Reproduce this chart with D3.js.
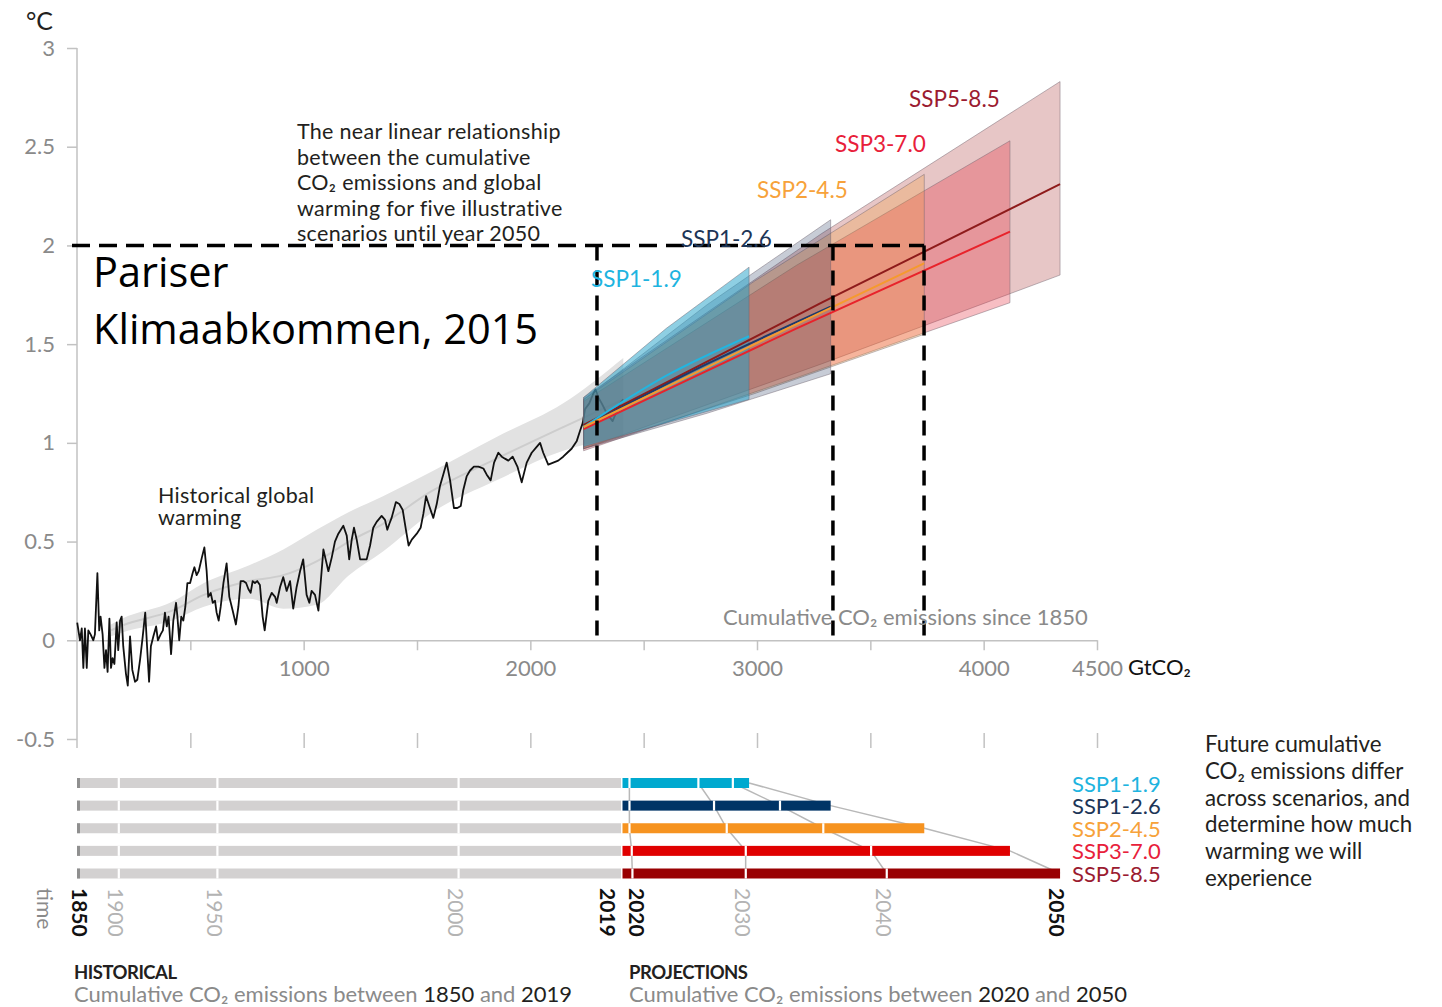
<!DOCTYPE html>
<html lang="en">
<head>
<meta charset="utf-8">
<script src="https://d3js.org/d3.v7.min.js"></script>
<style>
  body { margin: 0; background: #fff; }
</style>
</head>
<body>
<script>
// historical warming (°C) against cumulative CO2 since 1850 (GtCO2)
const histCum = [1,13,21,28,35,43,50,60,72,79,90,98,104,113,121,128,135,143,150,157,165,175,182,190,197,204,216,224,234,244,256,266,278,290,301,309,318,326,337,349,357,369,379,388,396,404,415,425,437,443,451,460,469,478,487,499,510,518,528,537,551,562,572,579,590,599,609,616,625,634,646,660,672,687,701,712,722,734,746,756,766,775,785,795,807,819,828,844,859,874,881,896,910,925,940,954,969,984,998,1013,1025,1035,1050,1065,1075,1087,1097,1109,1124,1138,1153,1175,1190,1201,1212,1222,1234,1249,1263,1278,1293,1307,1322,1344,1359,1369,1378,1388,1407,1422,1437,1451,1463,1477,1499,1516,1528,1540,1554,1572,1587,1601,1616,1631,1646,1663,1678,1693,1704,1719,1734,1751,1771,1793,1807,1825,1840,1859,1874,1888,1903,1922,1943,1962,1984,2006,2028,2043,2057,2079,2101,2123,2145,2163,2182,2205,2219,2231,2241,2260,2278,2288,2300,2315,2337,2363,2381,2396,2410];
const histTemp = [0.09,0.00,0.06,-0.14,0.06,-0.14,0.05,0.03,0.00,0.03,0.34,0.05,0.12,0.03,-0.14,-0.05,-0.16,0.11,-0.14,-0.09,-0.12,0.09,-0.05,0.10,0.12,-0.03,-0.17,-0.23,0.02,-0.15,-0.21,-0.20,-0.10,0.02,0.14,-0.03,-0.21,-0.03,0.02,0.07,0.00,0.03,0.05,0.14,0.07,0.12,-0.07,0.10,0.19,0.12,0.00,0.12,0.10,0.17,0.29,0.29,0.34,0.37,0.33,0.35,0.42,0.47,0.35,0.22,0.24,0.19,0.20,0.14,0.10,0.17,0.29,0.39,0.22,0.15,0.08,0.17,0.30,0.30,0.29,0.26,0.24,0.30,0.29,0.30,0.28,0.12,0.05,0.20,0.24,0.22,0.19,0.27,0.32,0.25,0.30,0.16,0.27,0.35,0.41,0.23,0.19,0.25,0.23,0.15,0.29,0.46,0.41,0.35,0.42,0.50,0.54,0.58,0.53,0.41,0.51,0.57,0.51,0.41,0.41,0.41,0.48,0.57,0.60,0.63,0.61,0.56,0.59,0.62,0.70,0.69,0.66,0.56,0.48,0.51,0.54,0.57,0.64,0.73,0.68,0.62,0.69,0.78,0.84,0.90,0.81,0.67,0.67,0.68,0.76,0.83,0.86,0.88,0.88,0.87,0.84,0.81,0.90,0.95,0.93,0.92,0.91,0.93,0.88,0.80,0.90,0.95,0.98,1.00,0.95,0.89,0.90,0.91,0.93,0.95,0.97,1.01,1.06,1.10,1.17,1.20,1.25,1.27,1.23,1.20,1.15,1.11,1.16,1.20,1.22];

// smoothed historical range
const bandCum = [150,200,420,560,760,910,1057,1200,1350,1557,1851,2145,2410];
const bandLo  = [0.02,0.04,0.10,0.17,0.21,0.16,0.18,0.33,0.45,0.64,0.81,0.96,1.03];
const bandMid = [0.05,0.075,0.15,0.23,0.30,0.33,0.40,0.50,0.59,0.75,0.92,1.08,1.22];
const bandHi  = [0.08,0.11,0.195,0.29,0.38,0.46,0.56,0.65,0.73,0.85,1.03,1.20,1.43];

// scenarios
const scenarios = ["SSP1-1.9","SSP1-2.6","SSP2-4.5","SSP3-7.0","SSP5-8.5"];
const projCum = [[2235,2600,2965],[2235,2780,3325],[2235,2990,3738],[2235,3175,4116],[2235,3285,4337]];
const projLo  = [[0.98,1.10,1.22],[0.97,1.15,1.35],[0.97,1.25,1.55],[0.96,1.33,1.71],[0.97,1.40,1.85]];
const projHi  = [[1.23,1.58,1.89],[1.22,1.70,2.13],[1.22,1.82,2.36],[1.21,1.90,2.53],[1.23,2.06,2.83]];
const projMid = [[1.08,1.34,1.54],[1.08,1.40,1.69],[1.08,1.50,1.91],[1.07,1.58,2.07],[1.09,1.71,2.31]];

// cumulative emissions at timeline years
const histYears = ["1850","1900","1950","2000","2019"];
const histYearCum = [0,184,619,1683,2400];
const projYears = ["2020","2030","2040","2050"];
const projYearCum = [[2437,2741,2893,2965],[2437,2810,3101,3325],[2437,2866,3292,3738],[2447,2950,3503,4116],[2450,2950,3572,4337]];

// Paris agreement annotation
const parisLevel = 2.0;
const parisCum = [2294,3335,3737];

const yTicks = [-0.5,0,0.5,1,1.5,2,2.5,3];
const xTicks = [500,1000,1500,2000,2500,3000,3500,4000,4500];
const xLabelled = [1000,2000,3000,4000,4500];

// styles
const bandFill = ["rgba(30,160,200,0.5)","rgba(30,50,90,0.25)","rgba(245,150,40,0.25)","rgba(230,40,55,0.3)","rgba(170,50,50,0.28)"];
const lineColor = ["#22b5e0","#1d3a6b","#f59a2e","#e8232b","#8e1b1b"];
const barColor = ["#00a9cf","#003466","#f69320","#e00000","#990002"];
const labelColor = ["#1eb4e0","#1d3557","#f7a23a","#e8203a","#9b1b30"];

const svg = d3.select("body").append("svg")
  .attr("width", 1442).attr("height", 1007)
  .attr("font-family", "Lato, 'Open Sans', sans-serif");

const x = d3.scaleLinear().domain([0, 4500]).range([77, 1097]);
const y = d3.scaleLinear().domain([-0.5, 3]).range([739, 48]);

function styleAxis(g) {
  g.attr("font-family", null).attr("font-size", null);
  g.selectAll("line,path").attr("stroke", "#c2c2c2").attr("stroke-width", 1.5);
  g.selectAll("text").attr("fill", "#8a8a8a").attr("font-size", 22);
}

// y axis
const gy = svg.append("g").attr("transform", "translate(77,0)")
  .call(d3.axisLeft(y).tickValues(yTicks).tickSize(10).tickSizeOuter(0).tickPadding(12).tickFormat(d => String(d)));
gy.select(".domain").remove();
gy.append("line").attr("x1", 0).attr("x2", 0).attr("y1", y(3)).attr("y2", y(-0.5) + 9);
styleAxis(gy);

// x axis at zero
const gx = svg.append("g").attr("transform", `translate(0,${y(0)})`)
  .call(d3.axisBottom(x).tickValues(xTicks).tickSize(10).tickSizeOuter(0).tickPadding(10)
    .tickFormat(d => xLabelled.includes(d) ? String(d) : ""));
styleAxis(gx);

// ticks at the bottom
const gb = svg.append("g").attr("transform", `translate(0,${y(-0.5) - 6})`)
  .call(d3.axisBottom(x).tickValues(xTicks).tickSize(15).tickFormat(""));
gb.select(".domain").remove();
styleAxis(gb);

svg.append("text").attr("x", x(4500) + 31).attr("y", y(0) + 35)
  .attr("font-size", 22).attr("fill", "#111").text("GtCO₂");
svg.append("text").attr("x", 26).attr("y", 30).attr("font-size", 25).attr("fill", "#231f20").text("°C");

// historical band
const band = d3.zip(bandCum, bandLo, bandMid, bandHi);
svg.append("path").datum(band)
  .attr("fill", "#e2e2e2")
  .attr("d", d3.area().curve(d3.curveMonotoneX).x(d => x(d[0])).y0(d => y(d[1])).y1(d => y(d[3])));
svg.append("path").datum(band)
  .attr("fill", "none").attr("stroke", "#cdcdcd").attr("stroke-width", 2)
  .attr("d", d3.line().curve(d3.curveMonotoneX).x(d => x(d[0])).y(d => y(d[2])));

// historical line
svg.append("path").datum(d3.zip(histCum, histTemp))
  .attr("fill", "none").attr("stroke", "#111").attr("stroke-width", 1.8).attr("stroke-linejoin", "round")
  .attr("d", d3.line().x(d => x(d[0])).y(d => y(d[1])));

// projection bands, widest first
[4, 3, 2, 1, 0].forEach(i => {
  const pts = d3.zip(projCum[i], projLo[i], projHi[i]);
  svg.append("path").datum(pts)
    .attr("fill", bandFill[i])
    .attr("stroke", "rgba(110,100,110,0.45)").attr("stroke-width", 1)
    .attr("d", d3.area().x(d => x(d[0])).y0(d => y(d[1])).y1(d => y(d[2])));
});
[4, 3, 1, 0, 2].forEach(i => {
  svg.append("path").datum(d3.zip(projCum[i], projMid[i]))
    .attr("fill", "none").attr("stroke", lineColor[i]).attr("stroke-width", 2)
    .attr("d", d3.line().curve(d3.curveMonotoneX).x(d => x(d[0])).y(d => y(d[1])));
});

// dashed Paris lines
svg.append("line")
  .attr("x1", x(0) - 5).attr("x2", x(d3.max(parisCum)))
  .attr("y1", y(parisLevel)).attr("y2", y(parisLevel))
  .attr("stroke", "#000").attr("stroke-width", 3.5).attr("stroke-dasharray", "18,9");
svg.selectAll("line.paris").data(parisCum).enter().append("line")
  .attr("class", "paris")
  .attr("x1", d => x(d)).attr("x2", d => x(d))
  .attr("y1", y(parisLevel)).attr("y2", y(0) + 2)
  .attr("stroke", "#000").attr("stroke-width", 3.5).attr("stroke-dasharray", "15,10");

// annotations
const note = ["The near linear relationship", "between the cumulative", "CO₂ emissions and global", "warming for five illustrative", "scenarios until year 2050"];
svg.append("text").attr("font-size", 21.5).attr("letter-spacing", 0.3).attr("fill", "#231f20")
  .selectAll("tspan").data(note).enter().append("tspan")
  .attr("x", 297).attr("y", (d, i) => 139 + i * 25.5).text(d => d);

svg.append("text").attr("font-size", 21.5).attr("letter-spacing", 0.3).attr("fill", "#231f20")
  .selectAll("tspan").data(["Historical global", "warming"]).enter().append("tspan")
  .attr("x", 158).attr("y", (d, i) => 503 + i * 22).text(d => d);

svg.append("text").attr("x", 723).attr("y", 625).attr("font-size", 22).attr("fill", "#8a8a8a")
  .text("Cumulative CO₂ emissions since 1850");

svg.append("text").attr("font-size", 41.5).attr("fill", "#000").attr("font-family", "'Open Sans', sans-serif")
  .selectAll("tspan").data(["Pariser", "Klimaabkommen, 2015"]).enter().append("tspan")
  .attr("x", 93).attr("y", (d, i) => 287 + i * 57).text(d => d);

// scenario labels in the chart
const topLabel = [[591, 278], [681, 238], [757, 189], [835, 143], [909, 98]];
scenarios.forEach((s, i) => {
  svg.append("text").attr("x", topLabel[i][0]).attr("y", topLabel[i][1])
    .attr("dominant-baseline", "central").attr("font-size", 22.5).attr("fill", labelColor[i]).text(s);
});

// timeline bars
const rowY = d3.scalePoint().domain(scenarios).range([783, 873.5]);
const barH = 10;

// connecting lines through the same year
projYears.forEach((yr, j) => {
  svg.append("path").datum(scenarios)
    .attr("fill", "none").attr("stroke", "#b8b8b8").attr("stroke-width", 1.5)
    .attr("d", d3.line().x((s, i) => x(projYearCum[i][j])).y(s => rowY(s)));
});

scenarios.forEach((s, i) => {
  const cy = rowY(s);
  const g = svg.append("g");
  g.append("rect").attr("x", x(0)).attr("y", cy - barH / 2)
    .attr("width", x(histYearCum[4]) - x(0)).attr("height", barH).attr("fill", "#d3d1d1");
  g.append("rect").attr("x", x(0)).attr("y", cy - barH / 2)
    .attr("width", 3).attr("height", barH).attr("fill", "#8f8f8f");
  g.append("rect").attr("x", x(histYearCum[4]) + 1.5).attr("y", cy - barH / 2)
    .attr("width", x(projYearCum[i][3]) - x(histYearCum[4]) - 1.5).attr("height", barH).attr("fill", barColor[i]);
  g.selectAll("rect.sep").data(histYearCum.slice(1, 4).concat(projYearCum[i].slice(0, 3))).enter()
    .append("rect").attr("class", "sep")
    .attr("x", d => x(d) - 1).attr("y", cy - barH / 2).attr("width", 2.2).attr("height", barH)
    .attr("fill", "#fff");
  svg.append("text").attr("x", 1072).attr("y", cy).attr("dominant-baseline", "central")
    .attr("font-size", 22).attr("fill", labelColor[i]).text(s);
});

// year labels, rotated
const yearLab = histYears.map((t, i) => ({ t: t, c: histYearCum[i] }))
  .concat(projYears.map((t, j) => ({ t: t, c: projYearCum[4][j] })));
const yearBold = ["1850", "2019", "2020", "2050"];
const yearShift = { "1850": 3, "2019": -13, "2020": 5, "2050": -3 };
yearLab.forEach(d => {
  const bold = yearBold.includes(d.t);
  const cx = x(d.c) + (yearShift[d.t] !== undefined ? yearShift[d.t] : -2);
  svg.append("text").attr("transform", `translate(${cx},888) rotate(90)`)
    .attr("dominant-baseline", "central").attr("font-size", 21)
    .attr("font-weight", bold ? "bold" : "normal")
    .attr("fill", bold ? "#111" : "#b3b3b3").text(d.t);
});
svg.append("text").attr("transform", "translate(45,888) rotate(90)")
  .attr("dominant-baseline", "central").attr("font-size", 21).attr("fill", "#8a8a8a").text("time");

// bottom captions
function caption(x0, head, a, b) {
  svg.append("text").attr("x", x0).attr("y", 979).attr("font-size", 18.5).attr("font-weight", "bold")
    .attr("letter-spacing", -0.5).attr("fill", "#231f20").text(head);
  const t = svg.append("text").attr("x", x0).attr("y", 1002).attr("font-size", 22).attr("fill", "#8a8a8a");
  t.append("tspan").text("Cumulative CO₂ emissions between ");
  t.append("tspan").attr("fill", "#231f20").text(a);
  t.append("tspan").text(" and ");
  t.append("tspan").attr("fill", "#231f20").text(b);
}
caption(74, "HISTORICAL", "1850", "2019");
caption(629, "PROJECTIONS", "2020", "2050");

// right side note
const side = ["Future cumulative", "CO₂ emissions differ", "across scenarios, and", "determine how much", "warming we will", "experience"];
svg.append("text").attr("font-size", 22.3).attr("fill", "#231f20")
  .selectAll("tspan").data(side).enter().append("tspan")
  .attr("x", 1205).attr("y", (d, i) => 752 + i * 26.8).text(d => d);
</script>
</body>
</html>
